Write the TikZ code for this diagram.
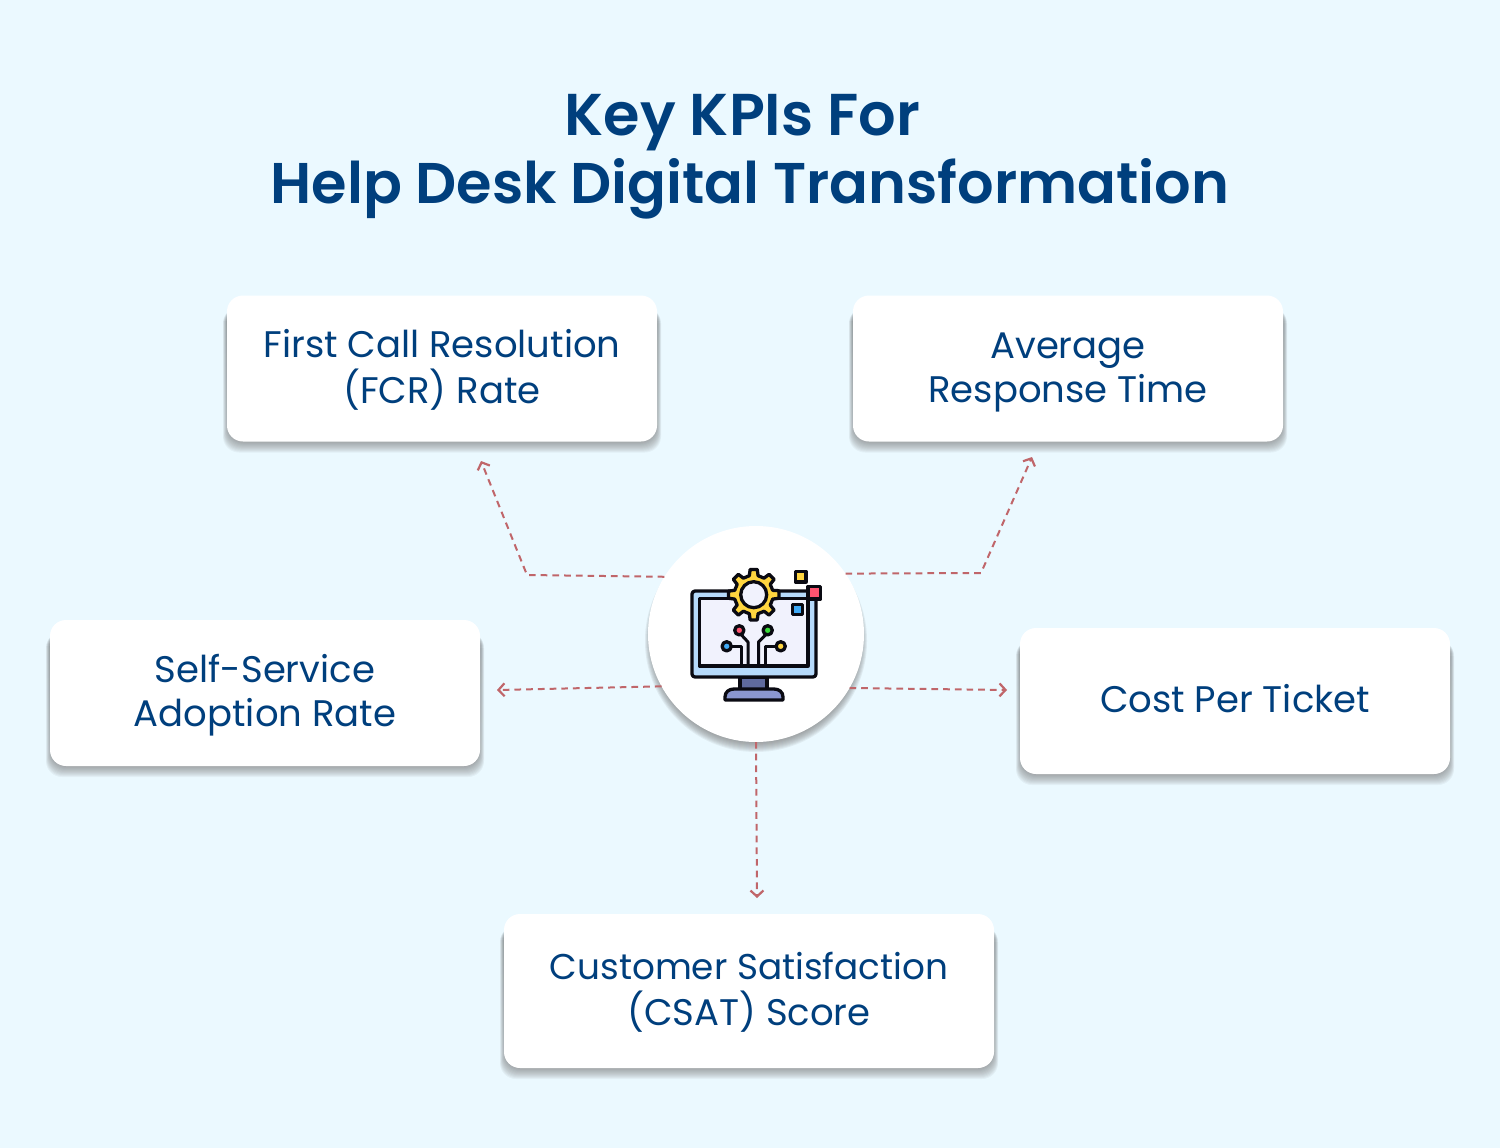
\documentclass[tikz,border=0pt]{standalone}
\usepackage{fontspec}
\setmainfont{Poppins}
\newfontfamily\titlefont{Poppins SemiBold}
\definecolor{pagebg}{HTML}{EBF9FF}
\definecolor{inkblue}{HTML}{003F7D}
\definecolor{dashred}{HTML}{C0666A}
\definecolor{shade}{HTML}{33474F}
\definecolor{ink}{HTML}{0A0A12}
\definecolor{gearyel}{HTML}{FFD53F}
\definecolor{framebl}{HTML}{B6DAFB}
\definecolor{screenw}{HTML}{F1F2FD}
\definecolor{neckcol}{HTML}{5F6A9E}
\definecolor{basecol}{HTML}{8A96D0}
\definecolor{redpin}{HTML}{FF5470}
\definecolor{greenpin}{HTML}{3ADB3A}
\definecolor{bluepin}{HTML}{3FA9F5}
\usetikzlibrary{arrows.meta}
\tikzset{
 x=1pt,y=-1pt,
 cardbox/.style={fill=white,rounded corners=16pt,inner sep=0pt,outer sep=0pt,align=center,text=inkblue,
   font=\fontsize{37}{44}\selectfont},
 titletext/.style={inner sep=0pt,align=center,text=inkblue,font=\titlefont\fontsize{57.4}{68}\selectfont},
 dashline/.style={draw=dashred,line width=2pt,dash pattern=on 6.7pt off 5pt,
   -{Straight Barb[length=6pt,width=13pt,line width=2.2pt]}},
 iconline/.style={draw=ink,line width=3.3pt,line join=round,line cap=round},
 wireline/.style={draw=ink,line width=3pt,line join=round,line cap=butt},
}
\newcommand{\kst}{\rule[-10.2pt]{0pt}{44pt}}
% centre x, centre y, width, height, name, text
\newcommand{\kpicard}[6]{%
  \foreach \d in {-4,...,8}{%
    \fill[shade,opacity=.04,rounded corners={16pt}]
      (#1-#3/2-\d*0.5,#2-#4/2+12) rectangle (#1+#3/2+\d*0.5,#2+#4/2+\d+3);}
  \node[cardbox,minimum width=#3pt,minimum height=#4pt] (#5) at (#1,#2) {#6};
}
\begin{document}
\begin{tikzpicture}
\useasboundingbox (0,0) rectangle (1500,1148);
\fill[pagebg] (0,0) rectangle (1500,1148);
\node[titletext] (title) at (750,156.5) {{\fontsize{59}{68}\selectfont Key KPIs For}\hspace*{15pt}\\Help Desk Digital Transformation};

\kpicard{442}{368.5}{430}{146}{fcr}{\kst First Call Resolution\\\kst (FCR) Rate}
\kpicard{1068}{368.5}{430}{146}{art}{\kst Average\\\kst Response Time}
\kpicard{265}{693}{430}{146}{ssa}{\kst Self-Service\\\kst Adoption Rate}
\kpicard{1235}{701}{430}{146}{cpt}{\kst Cost Per Ticket}
\kpicard{749}{991}{490}{154}{csat}{\fontsize{35.8}{44}\selectfont\kst Customer Satisfaction\\\kst (CSAT) Score}

% hub
\foreach \d in {-6,...,3}{%
  \fill[shade,opacity=.05] (756,641) circle[radius=108+\d];}
\node[circle,fill=white,minimum size=216pt,inner sep=0pt,outer sep=0pt] (hub) at (756,634) {};

% connector ends
\coordinate (fcrtip) at (481,461);
\coordinate (fcrbend) at (527,575);
\coordinate (arttip) at (1032,457);
\coordinate (artbend) at (981,573);
\coordinate (ssatip) at (497,690);
\coordinate (cpttip) at (1007,690);
\coordinate (csattip) at (757,898);
\draw[dashline] (hub.148) -- (fcrbend) -- (fcrtip);
\draw[dashline] (hub.34) -- (artbend) -- (arttip);
\draw[dashline] (hub.209) -- (ssatip);
\draw[dashline] (hub.-30) -- (cpttip);
\draw[dashline] (hub.-90) -- (csattip);

% monitor icon
\filldraw[iconline,fill=neckcol] (740,677) rectangle (767,690);
\filldraw[iconline,fill=basecol] (725,700) -- (725,697) .. controls (725,692) and (729,689) .. (734,689) -- (774,689) .. controls (779,689) and (783,692) .. (783,697) -- (783,700) -- cycle;
\filldraw[iconline,fill=framebl,rounded corners=3pt] (692,591) rectangle (816,677);
\filldraw[iconline,fill=screenw] (699.5,598.5) rectangle (808,666);
% circuit
\draw[wireline] (741.5,635) -- (748,642) -- (748,666);
\draw[wireline] (765.5,635) -- (758.5,642) -- (758.5,666);
\draw[wireline] (731,646.3) -- (741,646.3) -- (741,666);
\draw[wireline] (776,646.3) -- (765,646.3) -- (765,666);
\filldraw[iconline,fill=redpin] (739.3,630.3) circle[radius=4.6];
\filldraw[iconline,fill=greenpin] (767.7,630.3) circle[radius=4.6];
\filldraw[iconline,fill=bluepin] (726.7,646.3) circle[radius=4.6];
\filldraw[iconline,fill=gearyel] (780.7,646.3) circle[radius=4.6];
% gear
\begin{scope}[shift={(753.7,594.7)}]
\filldraw[iconline,fill=gearyel] (-9:25.5)
  \foreach \a in {0,45,...,315}{ -- (\a-8:25.5) -- (\a+8:25.5) -- (\a+13:19.5) -- (\a+32:19.5)} -- cycle;
\filldraw[iconline,fill=screenw] (0,0) circle[radius=13];
\end{scope}
% squares
\filldraw[iconline,fill=gearyel] (795.5,571.5) rectangle (806,582);
\filldraw[iconline,fill=redpin] (808,586.5) rectangle (820.5,599);
\filldraw[iconline,fill=bluepin] (792.5,604.5) rectangle (802.5,614.5);
\end{tikzpicture}
\end{document}
